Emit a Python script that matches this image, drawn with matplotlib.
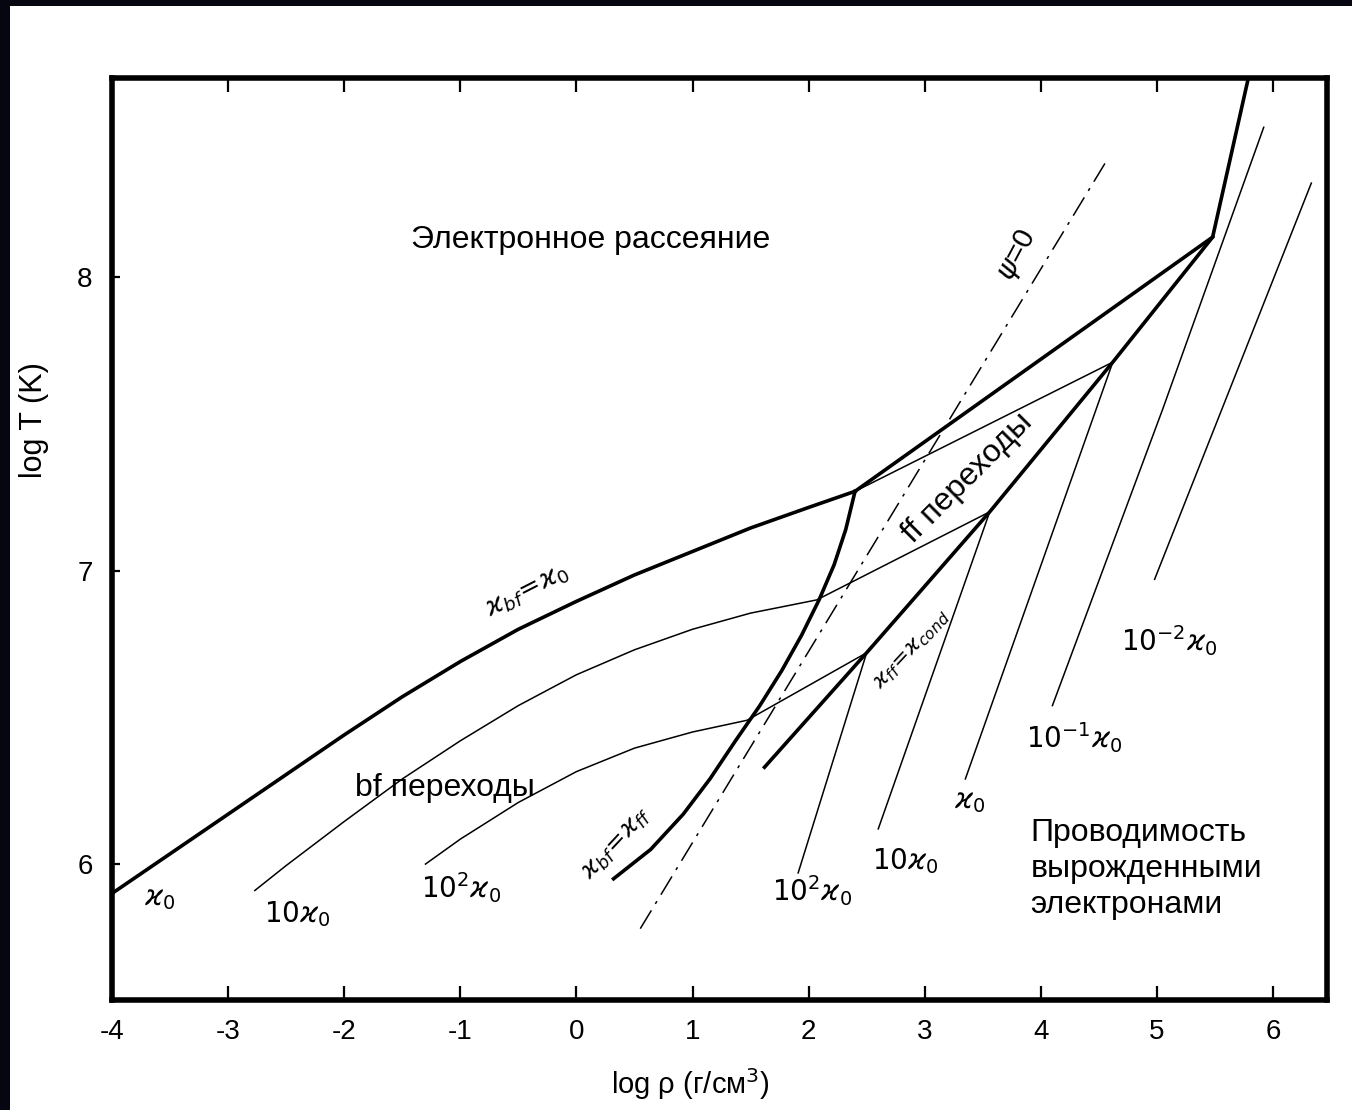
import numpy as np
import matplotlib.pyplot as plt
from matplotlib.patches import Rectangle

plt.rcParams['font.family'] = ['Liberation Sans', 'DejaVu Sans']
plt.rcParams['mathtext.fontset'] = 'dejavusans'

# границы областей (толстые линии)
bf_x = [-4, -3.5, -3, -2.5, -2, -1.5, -1, -0.5, 0, 0.5, 1, 1.5, 2, 2.4]
bf_y = [5.90, 6.035, 6.17, 6.305, 6.44, 6.57, 6.69, 6.80, 6.895, 6.985, 7.065, 7.145, 7.215, 7.27]
es_x = [2.4, 5.48, 5.80]
es_y = [7.27, 8.136, 8.70]
bfff_x = [2.40, 2.32, 2.22, 2.09, 1.94, 1.77, 1.58, 1.37, 1.15, 0.92, 0.64, 0.32]
bfff_y = [7.27, 7.14, 7.02, 6.90, 6.78, 6.66, 6.54, 6.42, 6.29, 6.17, 6.05, 5.95]
ffc_x = [1.62, 2.50, 3.56, 4.62, 5.48]
ffc_y = [6.33, 6.72, 7.20, 7.71, 8.136]

# psi = 0
psi_x = [0.55, 4.58]
psi_y = [5.78, 8.405]

# линии постоянной непрозрачности (тонкие)
k10_x = [-2.77, -2.5, -2, -1.5, -1, -0.5, 0, 0.5, 1, 1.5, 2.07, 3.56, 2.60]
k10_y = [5.91, 5.995, 6.145, 6.29, 6.42, 6.54, 6.645, 6.73, 6.80, 6.855, 6.90, 7.20, 6.12]
k100_x = [-1.30, -1, -0.5, 0, 0.5, 1, 1.47, 2.50, 1.91]
k100_y = [6.00, 6.085, 6.21, 6.315, 6.395, 6.45, 6.49, 6.72, 5.97]
k1_x = [2.40, 4.62, 3.35]
k1_y = [7.27, 7.71, 6.29]
k01_x = [5.92, 5.05, 4.10]
k01_y = [8.51, 7.55, 6.54]
k001_x = [6.33, 4.98]
k001_y = [8.32, 6.97]

fig = plt.figure(figsize=(13.52, 11.10), dpi=100, facecolor='#05060f')
fig.patches.append(Rectangle((10 / 1352, 0), 1, 1 - 6 / 1110, transform=fig.transFigure,
                             facecolor='white', edgecolor='none', zorder=-10))
ax = fig.add_axes([112 / 1352, 110 / 1110, 1215 / 1352, 922 / 1110])

thick = dict(color='black', lw=2.6, solid_joinstyle='miter')
thin = dict(color='black', lw=1.1)
ax.plot(bf_x, bf_y, **thick)
ax.plot(es_x, es_y, **thick)
ax.plot(bfff_x, bfff_y, **thick)
ax.plot(ffc_x, ffc_y, **thick)
ax.plot(psi_x, psi_y, color='black', lw=1.1, linestyle=(0, (14, 5, 2, 5)))
for xs, ys in [(k10_x, k10_y), (k100_x, k100_y), (k1_x, k1_y), (k01_x, k01_y), (k001_x, k001_y)]:
    ax.plot(xs, ys, **thin)

fs = 20
ft = 23
ax.text(0.12, 8.126, 'Электронное рассеяние', fontsize=ft, ha='center', va='center')
ax.text(-1.13, 6.26, 'bf переходы', fontsize=ft, ha='center', va='center')
ax.text(3.37, 7.315, 'ff переходы', fontsize=ft, ha='center', va='center', rotation=45)
ax.text(3.80, 8.075, r'$\psi$=0', fontsize=21, ha='center', va='center', rotation=62)
ax.text(-0.42, 6.93, r'$\varkappa_{bf}\!=\!\varkappa_0$', fontsize=19, ha='center', va='center', rotation=27)
ax.text(0.35, 6.07, r'$\varkappa_{bf}\!=\!\varkappa_{ff}$', fontsize=18, ha='center', va='center', rotation=47)
ax.text(2.89, 6.73, r'$\varkappa_{ff}\!=\!\varkappa_{cond}$', fontsize=16, ha='center', va='center', rotation=47)

lab = [(-3.59, 5.88, r'$\varkappa_0$'), (-2.40, 5.83, r'$10\varkappa_0$'),
       (-0.99, 5.92, r'$10^2\varkappa_0$'), (2.03, 5.91, r'$10^2\varkappa_0$'),
       (2.83, 6.01, r'$10\varkappa_0$'), (3.39, 6.21, r'$\varkappa_0$'),
       (4.29, 6.43, r'$10^{-1}\varkappa_0$'), (5.11, 6.76, r'$10^{-2}\varkappa_0$')]
for x, y, s in lab:
    ax.text(x, y, s, fontsize=fs, ha='center', va='center')

ax.text(3.91, 6.157, 'Проводимость\nвырожденными\nэлектронами', fontsize=ft,
        ha='left', va='top', linespacing=1.25)

ax.set_xlim(-4, 6.465)
ax.set_ylim(5.537, 8.678)
ax.set_xticks(range(-4, 7))
ax.set_xticklabels([str(v) for v in range(-4, 7)])
ax.set_yticks([6, 7, 8])
ax.tick_params(axis='both', direction='in', length=10, width=1.6, labelsize=fs, pad=14,
               top=True, right=False)
ax.tick_params(axis='y', length=6)
for s in ax.spines.values():
    s.set_linewidth(4)
ax.set_xlabel('log ρ (г/см$^3$)', fontsize=21)
ax.set_ylabel('log T (K)', fontsize=22)
ax.xaxis.set_label_coords(0.476, -0.072)
ax.yaxis.set_label_coords(-0.052, 0.629)

fig.savefig('out.png', dpi=100, facecolor=fig.get_facecolor())
